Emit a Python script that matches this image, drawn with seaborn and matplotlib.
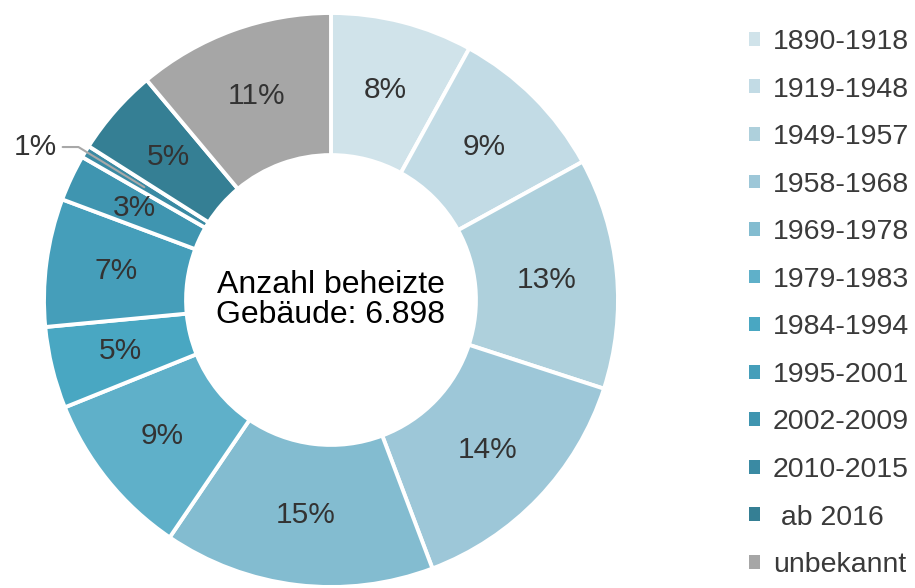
import matplotlib
matplotlib.use("Agg")
import matplotlib.pyplot as plt
import seaborn as sns
import numpy as np
from matplotlib.patches import Patch

# ---- data ----
categories = ["1890-1918", "1919-1948", "1949-1957", "1958-1968", "1969-1978",
              "1979-1983", "1984-1994", "1995-2001", "2002-2009", "2010-2015",
              " ab 2016", "unbekannt"]
shares = [8.0, 9.0, 13.0, 14.25, 15.25, 9.4, 4.6, 7.2, 2.6, 0.7, 4.9, 11.1]
share_labels = ["8%", "9%", "13%", "14%", "15%", "9%", "5%", "7%", "3%", "1%", "5%", "11%"]
center_title = "Anzahl beheizte\nGebäude: 6.898"

# ---- style ----
colors = ["#D0E3EA", "#C2DBE5", "#AED0DC", "#9DC7D8", "#83BCD0", "#5FB0C9",
          "#49A7C2", "#459EBA", "#3F95B0", "#3A8AA3", "#357F94", "#A6A6A6"]

sns.set_theme(style="white")
plt.rcParams['font.family'] = ['Liberation Sans', 'DejaVu Sans']

W, H = 915, 588
fig = plt.figure(figsize=(W / 100, H / 100), dpi=100)
ax = fig.add_axes([44 / W, 1 / H, 574 / W, 574 / H])

wedges, _ = ax.pie(shares, colors=colors, startangle=90, counterclock=False,
                   radius=1.0,
                   wedgeprops=dict(width=0.495, edgecolor="white", linewidth=2.8))
ax.set_xlim(-1, 1)
ax.set_ylim(-1, 1)
ax.set_aspect("equal")

label_r = 0.755
small_idx = None
for i, (w, lab) in enumerate(zip(wedges, share_labels)):
    mid = np.deg2rad((w.theta1 + w.theta2) / 2)
    if shares[i] < 1.5:
        small_idx = i
        continue
    ax.text(label_r * np.cos(mid), label_r * np.sin(mid), lab,
            ha="center", va="center", fontsize=21.5, color="#333333")

# leader line for the tiny slice
if small_idx is not None:
    w = wedges[small_idx]
    mid = np.deg2rad((w.theta1 + w.theta2) / 2)
    px, py = 0.76 * np.cos(mid), 0.76 * np.sin(mid)
    ty = 0.533
    ax.plot([-0.935, -0.88, px], [ty, ty, py], color="#A8A8A8", lw=1.5,
            solid_capstyle="round", clip_on=False)
    ax.text(-0.955, ty, share_labels[small_idx], ha="right", va="center",
            fontsize=21.5, color="#333333", clip_on=False)

ax.text(0, 0, center_title, ha="center", va="center", fontsize=23,
        color="black", linespacing=1.0)

handles = [Patch(facecolor=c, edgecolor="none") for c in colors]
leg = fig.legend(handles, categories, loc="upper left",
                 bbox_to_anchor=(749 / W, (H - 29) / H), frameon=False,
                 fontsize=20.5, handlelength=0.37, handleheight=0.37,
                 handletextpad=0.47, labelspacing=0.757,
                 borderaxespad=0, borderpad=0)
for t in leg.get_texts():
    t.set_color("#3A3A3A")

fig.savefig("out.png", dpi=100)
